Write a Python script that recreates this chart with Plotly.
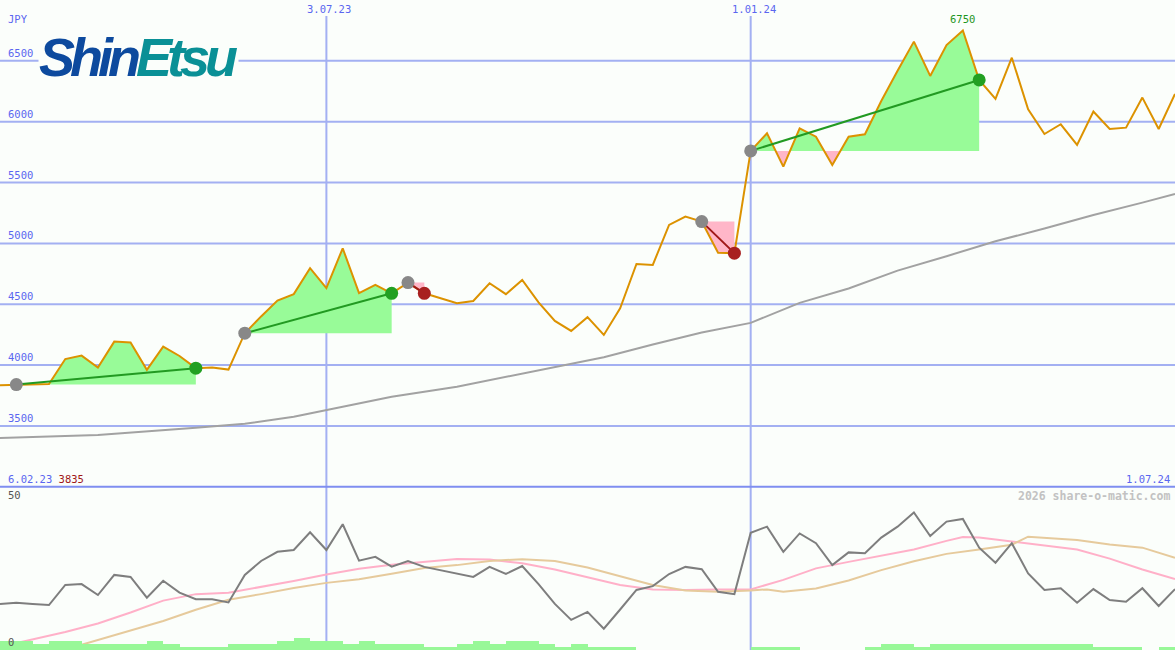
import pandas as pd
import plotly.graph_objects as go

# ---------------- data ----------------
start_date = "2023-02-13"
n_weeks = 73
weeks = pd.date_range(start_date, periods=n_weeks, freq="7D")

price = [3835, 3840, 3840, 3845, 4050, 4078, 3980, 4193, 4185, 3961,
         4152, 4075, 3975, 3980, 3963, 4262, 4400, 4530, 4583, 4796,
         4632, 4960, 4591, 4659, 4590, 4678, 4590, 4550, 4509, 4527,
         4673, 4583, 4700, 4516, 4363, 4281, 4394, 4248, 4467, 4831,
         4823, 5152, 5220, 5179, 4924, 4920, 5760, 5905, 5631, 5946,
         5877, 5645, 5877, 5897, 6170, 6419, 6658, 6376, 6630, 6750,
         6343, 6187, 6526, 6102, 5899, 5979, 5809, 6083, 5940, 5951,
         6198, 5940, 6228]

ma_idx = [0, 6, 12, 15, 18, 20, 24, 28, 31, 34, 37, 40, 43, 46, 49, 52, 55, 58, 61, 64, 67, 70, 72]
ma_val = [3400, 3426, 3485, 3518, 3575, 3632, 3740, 3822, 3903, 3990, 4065, 4170, 4268,
          4347, 4511, 4630, 4776, 4895, 5017, 5123, 5234, 5335, 5406]

# signals: (start index, end index)
signals = [(1, 12), (15, 24), (25, 26), (43, 45), (46, 60)]

osc = [14.9, 15.3, 14.9, 14.5, 21.3, 21.6, 17.9, 24.7, 24.0, 17.0,
       22.7, 18.7, 16.5, 16.5, 15.4, 24.7, 29.4, 32.5, 33.1, 39.1,
       33.1, 41.8, 29.5, 30.8, 27.5, 29.4, 27.4, 26.3, 25.0, 24.0,
       27.4, 25.0, 27.7, 21.6, 14.9, 9.5, 12.2, 6.5, 13.0, 19.6,
       20.9, 25.0, 27.4, 26.6, 19.0, 18.2, 38.9, 41.0, 32.5, 38.7,
       35.4, 28.0, 32.3, 32.0, 37.3, 41.0, 45.8, 37.8, 42.7, 43.6,
       33.9, 28.8, 35.4, 25.2, 19.6, 20.2, 15.3, 19.9, 16.2, 15.6,
       20.2, 14.2, 19.9]

pink_idx = [0, 2, 4, 6, 8, 10, 12, 14, 16, 18, 20, 22, 24, 26, 28, 30, 32, 34, 36, 38,
            40, 42, 44, 46, 48, 50, 52, 54, 56, 58, 59, 60, 62, 64, 66, 68, 70, 72]
pink_val = [0.4, 3.0, 5.4, 8.3, 12.0, 16.0, 18.2, 18.7, 20.6, 22.6, 24.8, 26.8, 28.1, 29.1,
            30.1, 29.9, 28.6, 26.5, 24.0, 21.3, 19.8, 19.6, 19.8, 19.8, 23.0, 26.9, 29.1,
            31.2, 33.3, 36.2, 37.5, 37.3, 36.0, 34.8, 33.3, 30.2, 26.5, 23.3]

tan_idx = [4, 6, 8, 10, 12, 14, 16, 18, 20, 22, 24, 26, 28, 30, 32, 34, 36, 38, 40, 42,
           44, 46, 47, 48, 50, 52, 54, 56, 58, 60, 62, 63, 64, 66, 68, 70, 72]
tan_val = [-0.5, 2.7, 5.8, 9.1, 12.9, 16.3, 18.2, 20.3, 22.0, 23.2, 25.1, 27.0, 28.0, 29.4,
           30.0, 29.4, 27.2, 24.3, 21.3, 19.4, 19.0, 19.4, 19.8, 19.0, 20.1, 22.8, 26.3,
           29.3, 31.8, 33.3, 34.9, 37.6, 37.3, 36.5, 35.0, 33.9, 30.5]

volume = [3, 3, 2, 3, 3, 2, 2, 2, 2, 3, 2, 1, 1, 1, 2, 2, 2, 3, 4, 3,
          3, 2, 3, 2, 2, 2, 1, 1, 2, 3, 2, 3, 3, 2, 1, 2, 1, 1, 1, 0,
          0, 0, 0, 0, 0, 0, 1, 1, 1, 0, 0, 0, 0, 1, 2, 2, 1, 2, 2, 2,
          2, 2, 2, 2, 2, 2, 2, 1, 1, 1, 0, 1, 1]

price_ticks = [3500, 4000, 4500, 5000, 5500, 6000, 6500]
date_marks = ["2023-07-03", "2024-01-01"]
date_mark_labels = ["3.07.23", "1.01.24"]
start_label = "6.02.23"
end_label = "1.07.24"
first_price_label = "3835"
max_label = "6750"
currency = "JPY"

# ---------------- style ----------------
BG = "#FBFEFB"
GRID = "#A3B0F2"
SEP = "#7F8EF0"
LBL = "#5A66F0"
ORANGE = "#DC9200"
GREEN_FILL = "#98FB98"
PINK_FILL = "#FFB6C8"
MONO = "DejaVu Sans Mono"

W, H = 1175, 650
price_bottom_px = 486.8
split = 1 - price_bottom_px / H

fig = go.Figure()

# signal fills
for s, e in signals:
    base = price[s]
    px_, py_ = [], []
    for i in range(s, e):
        px_.append(weeks[i]); py_.append(price[i])
        a, b = price[i] - base, price[i + 1] - base
        if a * b < 0:
            t = (base - price[i]) / (price[i + 1] - price[i])
            px_.append(weeks[i] + (weeks[i + 1] - weeks[i]) * t); py_.append(base)
    px_.append(weeks[e]); py_.append(price[e])
    up = [max(v, base) for v in py_]
    dn = [min(v, base) for v in py_]
    for ys, col in ((up, GREEN_FILL), (dn, PINK_FILL)):
        fig.add_trace(go.Scatter(x=px_ + [weeks[e], weeks[s]], y=ys + [base, base],
                                 fill="toself", fillcolor=col, mode="lines",
                                 line=dict(width=0, color=col), hoverinfo="skip",
                                 showlegend=False))

# long moving average
fig.add_trace(go.Scatter(x=[weeks[i] for i in ma_idx], y=ma_val, mode="lines",
                         line=dict(color="#A2A2A2", width=2), showlegend=False))
# price
fig.add_trace(go.Scatter(x=weeks, y=price, mode="lines",
                         line=dict(color=ORANGE, width=2), showlegend=False))

# signal lines and dots
for s, e in signals:
    gain = price[e] >= price[s]
    lc = "#229A22" if gain else "#A01818"
    dc = "#22A022" if gain else "#A82020"
    fig.add_trace(go.Scatter(x=[weeks[s], weeks[e]], y=[price[s], price[e]], mode="lines",
                             line=dict(color=lc, width=2), showlegend=False))
    fig.add_trace(go.Scatter(x=[weeks[s]], y=[price[s]], mode="markers",
                             marker=dict(color="#888888", size=13), showlegend=False))
    fig.add_trace(go.Scatter(x=[weeks[e]], y=[price[e]], mode="markers",
                             marker=dict(color=dc, size=13), showlegend=False))

# lower panel
fig.add_trace(go.Bar(x=weeks, y=volume, yaxis="y3", marker=dict(color="#98F898", line=dict(width=0)),
                     width=7 * 86400000, offset=0, showlegend=False))
fig.add_trace(go.Scatter(x=[weeks[i] for i in pink_idx], y=pink_val, yaxis="y2", mode="lines",
                         line=dict(color="#FFB0C8", width=2), showlegend=False))
fig.add_trace(go.Scatter(x=[weeks[i] for i in tan_idx], y=tan_val, yaxis="y2", mode="lines",
                         line=dict(color="#E6CA9C", width=2), showlegend=False))
fig.add_trace(go.Scatter(x=weeks, y=osc, yaxis="y2", mode="lines",
                         line=dict(color="#7E7E7E", width=2), showlegend=False))

shapes = []
for v in price_ticks:
    shapes.append(dict(type="line", xref="paper", yref="y", x0=0, x1=1, y0=v, y1=v,
                       line=dict(color=GRID, width=2), layer="below"))
for d in date_marks:
    shapes.append(dict(type="line", xref="x", yref="paper", x0=d, x1=d, y0=0, y1=1 - 16 / H,
                       line=dict(color=GRID, width=2), layer="below"))
shapes.append(dict(type="line", xref="paper", yref="paper", x0=0, x1=1, y0=split, y1=split,
                   line=dict(color=SEP, width=2), layer="above"))

ann = []
for v in price_ticks:
    ann.append(dict(x=6 / W, y=v, xref="paper", yref="y", text=str(v), showarrow=False,
                    xanchor="left", yanchor="bottom", yshift=0,
                    font=dict(family=MONO, size=10.5, color=LBL)))
ann.append(dict(x=6 / W, y=1 - 19 / H, xref="paper", yref="paper", text=currency, showarrow=False,
                xanchor="left", yanchor="middle", font=dict(family=MONO, size=10.5, color=LBL)))
for d, t in zip(date_marks, date_mark_labels):
    ann.append(dict(x=d, y=1 - 9 / H, xref="x", yref="paper", text=t, showarrow=False, xshift=3,
                    xanchor="center", yanchor="middle", font=dict(family=MONO, size=10.5, color=LBL)))
ann.append(dict(x=6 / W, y=1 - 479 / H, xref="paper", yref="paper",
                text=f"{start_label} <span style='color:#A01818'>{first_price_label}</span>",
                showarrow=False, xanchor="left", yanchor="middle",
                font=dict(family=MONO, size=10.5, color=LBL)))
ann.append(dict(x=1 - 3 / W, y=1 - 479 / H, xref="paper", yref="paper", text=end_label,
                showarrow=False, xanchor="right", yanchor="middle",
                font=dict(family=MONO, size=10.5, color=LBL)))
ann.append(dict(x=1 - 3 / W, y=1 - 496 / H, xref="paper", yref="paper",
                text="<b>2026 share-o-matic.com</b>", showarrow=False, xanchor="right",
                yanchor="middle", font=dict(family=MONO, size=11.5, color="#C2C2C2")))
ann.append(dict(x=6 / W, y=1 - 495 / H, xref="paper", yref="paper", text="50", showarrow=False,
                xanchor="left", yanchor="middle", font=dict(family=MONO, size=10.5, color="#555555")))
ann.append(dict(x=6 / W, y=1 - 642 / H, xref="paper", yref="paper", text="0", showarrow=False,
                xanchor="left", yanchor="middle", font=dict(family=MONO, size=10.5, color="#555555")))
imax = price.index(max(price))
ann.append(dict(x=weeks[imax], y=price[imax], xref="x", yref="y", text=max_label, showarrow=False,
                xanchor="center", yanchor="bottom", yshift=3,
                font=dict(family=MONO, size=10.5, color="#1E961E")))
# logo
ann.append(dict(x=38 / W, y=1 - 57 / H, xref="paper", yref="paper",
                text="<b><i><span style='color:#0D4A9E;letter-spacing:-5px'>Shin</span>"
                     "<span style='color:#0A9096;letter-spacing:-5px'>Etsu</span></i></b>",
                showarrow=False, xanchor="left", yanchor="middle", bgcolor=BG, borderpad=0,
                font=dict(family="Liberation Sans", size=54)))

fig.update_layout(
    width=W, height=H, margin=dict(l=0, r=0, t=0, b=0),
    paper_bgcolor=BG, plot_bgcolor=BG, showlegend=False, bargap=0,
    xaxis=dict(range=[weeks[0], weeks[-1]], visible=False, showgrid=False, anchor="y2"),
    yaxis=dict(domain=[split, 1], range=[3000, 7000], visible=False, showgrid=False),
    yaxis2=dict(domain=[0, split], range=[-0.676, 54.46], visible=False, showgrid=False),
    yaxis3=dict(overlaying="y2", range=[0, (H * split) / 3], visible=False, showgrid=False),
    shapes=shapes, annotations=ann,
)

fig.write_html("out.html", config={"displayModeBar": False},
               post_script="document.body.style.margin='0';document.body.style.padding='0';"
                           "document.body.style.background='" + BG + "';")
